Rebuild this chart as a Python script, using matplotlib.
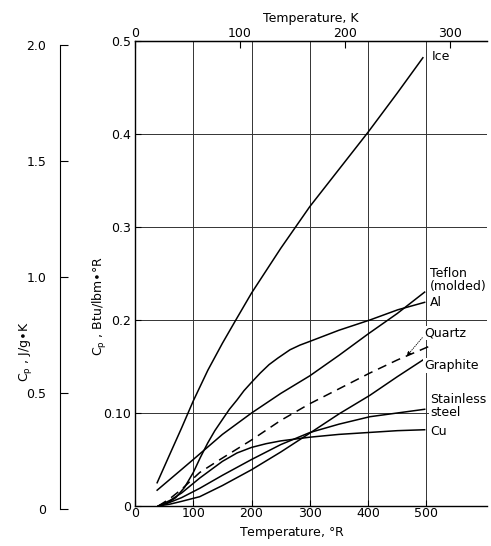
import matplotlib
matplotlib.use("Agg")
import matplotlib.pyplot as plt

plt.rcParams['font.family'] = ['DejaVu Sans']

# ---- data (temperature in deg R, cp in Btu/lbm.R) ----
ice_x = [38, 60, 80, 100, 125, 150, 173, 200, 250, 300, 350, 400, 450, 494]
ice_y = [0.025, 0.056, 0.084, 0.113, 0.146, 0.175, 0.200, 0.229, 0.277, 0.322, 0.362, 0.402, 0.444, 0.482]

teflon_x = [38, 70, 100, 150, 200, 250, 300, 350, 400, 450, 497]
teflon_y = [0.017, 0.034, 0.050, 0.077, 0.100, 0.121, 0.140, 0.162, 0.185, 0.207, 0.230]

al_x = [40, 55, 70, 85, 100, 112, 125, 137, 150, 162, 175, 187, 200, 215, 230, 245, 266, 283, 300, 350, 403, 451, 497]
al_y = [0.0, 0.003, 0.009, 0.020, 0.036, 0.052, 0.068, 0.081, 0.093, 0.104, 0.114, 0.124, 0.133, 0.143, 0.152, 0.159, 0.168, 0.173, 0.177, 0.189, 0.200, 0.211, 0.219]

quartz_x = [40, 60, 80, 111, 146, 200, 250, 300, 350, 403, 450, 506]
quartz_y = [0.0, 0.008, 0.018, 0.036, 0.050, 0.071, 0.092, 0.110, 0.126, 0.143, 0.157, 0.172]

graphite_x = [40, 60, 80, 111, 150, 200, 250, 304, 350, 403, 450, 494]
graphite_y = [0.0, 0.002, 0.005, 0.010, 0.022, 0.039, 0.058, 0.080, 0.099, 0.119, 0.139, 0.157]

ss_x = [40, 60, 80, 111, 150, 200, 250, 300, 350, 403, 450, 497]
ss_y = [0.0, 0.004, 0.009, 0.019, 0.033, 0.050, 0.066, 0.079, 0.088, 0.096, 0.100, 0.104]

cu_x = [40, 60, 80, 111, 150, 175, 200, 225, 250, 300, 350, 400, 450, 497]
cu_y = [0.0, 0.006, 0.014, 0.030, 0.048, 0.057, 0.063, 0.067, 0.070, 0.074, 0.077, 0.079, 0.081, 0.082]

x_ticks = [0, 100, 200, 300, 400, 500]
y_ticks = [0, 0.1, 0.2, 0.3, 0.4, 0.5]
y_tick_labels = ['0', '0.10', '0.2', '0.3', '0.4', '0.5']
k_ticks = [0, 100, 200, 300]
si_ticks = [0, 0.5, 1.0, 1.5, 2.0]
si_tick_labels = ['0', '0.5', '1.0', '1.5', '2.0']

# labels: (text, x, y)
curve_labels = [
    ("Ice", 509, 0.483),
    ("Teflon\n(molded)", 506, 0.243),
    ("Al", 506, 0.219),
    ("Quartz", 497, 0.186),
    ("Graphite", 496, 0.151),
    ("Stainless\nsteel", 506, 0.107),
    ("Cu", 506, 0.080),
]

W, H = 491, 546
fig = plt.figure(figsize=(W / 100, H / 100), dpi=100)
fs = 9

ax = fig.add_axes([135 / W, 40 / H, (487 - 135) / W, (505 - 40) / H])
ax.set_xlim(0, 604)
ax.set_ylim(0, 0.5)

lw = 1.1
ax.plot(ice_x, ice_y, color='black', lw=lw)
ax.plot(teflon_x, teflon_y, color='black', lw=lw)
ax.plot(al_x, al_y, color='black', lw=lw)
ax.plot(quartz_x, quartz_y, color='black', lw=lw, dashes=(6, 4))
ax.plot(graphite_x, graphite_y, color='black', lw=lw)
ax.plot(ss_x, ss_y, color='black', lw=lw)
ax.plot(cu_x, cu_y, color='black', lw=lw)

ax.set_xticks(x_ticks)
ax.set_yticks(y_ticks)
ax.set_yticklabels(y_tick_labels)
ax.tick_params(axis='both', direction='in', length=4, labelsize=fs)
ax.tick_params(axis='x', pad=1)
ax.tick_params(axis='y', pad=3)
ax.grid(True, color='0.2', lw=0.7)
ax.set_axisbelow(True)
ax.spines['right'].set_visible(False)
for s in ['left', 'bottom', 'top']:
    ax.spines[s].set_linewidth(1.0)

for txt, x, y in curve_labels:
    ax.text(x, y, txt, fontsize=fs, ha='left', va='center', linespacing=1.0,
            bbox=dict(facecolor='white', edgecolor='none', pad=0.5))

ax.annotate('', xy=(466, 0.161), xytext=(493, 0.181),
            arrowprops=dict(arrowstyle='-|>', lw=0.6, ls=':', color='black',
                            mutation_scale=7, shrinkA=0, shrinkB=0))

# top axis in Kelvin
sec = ax.secondary_xaxis('top', functions=(lambda r: r / 1.8, lambda k: k * 1.8))
sec.set_xticks(k_ticks)
sec.tick_params(direction='in', length=5, labelsize=fs, pad=1)
sec.set_xlabel("Temperature, K", fontsize=fs, labelpad=3)

fig.text(292 / W, 1 - 533 / H, "Temperature, $\\degree$R",
         ha='center', va='center', fontsize=fs)
fig.text(100 / W, 1 - 306 / H, "C$_\\mathrm{p}$ , Btu/lbm$\\bullet$$\\degree$R",
         rotation=90, ha='center', va='center', fontsize=fs)

# separate SI scale on the left
ax2 = fig.add_axes([60 / W, 37 / H, 0.0001, (509 - 45) / H])
ax2.set_ylim(0, 2.0)
ax2.set_yticks(si_ticks)
ax2.set_yticklabels(si_tick_labels)
ax2.set_xticks([])
ax2.patch.set_visible(False)
for s in ['right', 'top', 'bottom']:
    ax2.spines[s].set_visible(False)
ax2.tick_params(axis='y', direction='in', length=6, labelsize=fs, pad=10)
fig.text(25 / W, 1 - 352 / H, "C$_\\mathrm{p}$ , J/g$\\bullet$K",
         rotation=90, ha='center', va='center', fontsize=fs)

fig.savefig("out.png", dpi=100)
